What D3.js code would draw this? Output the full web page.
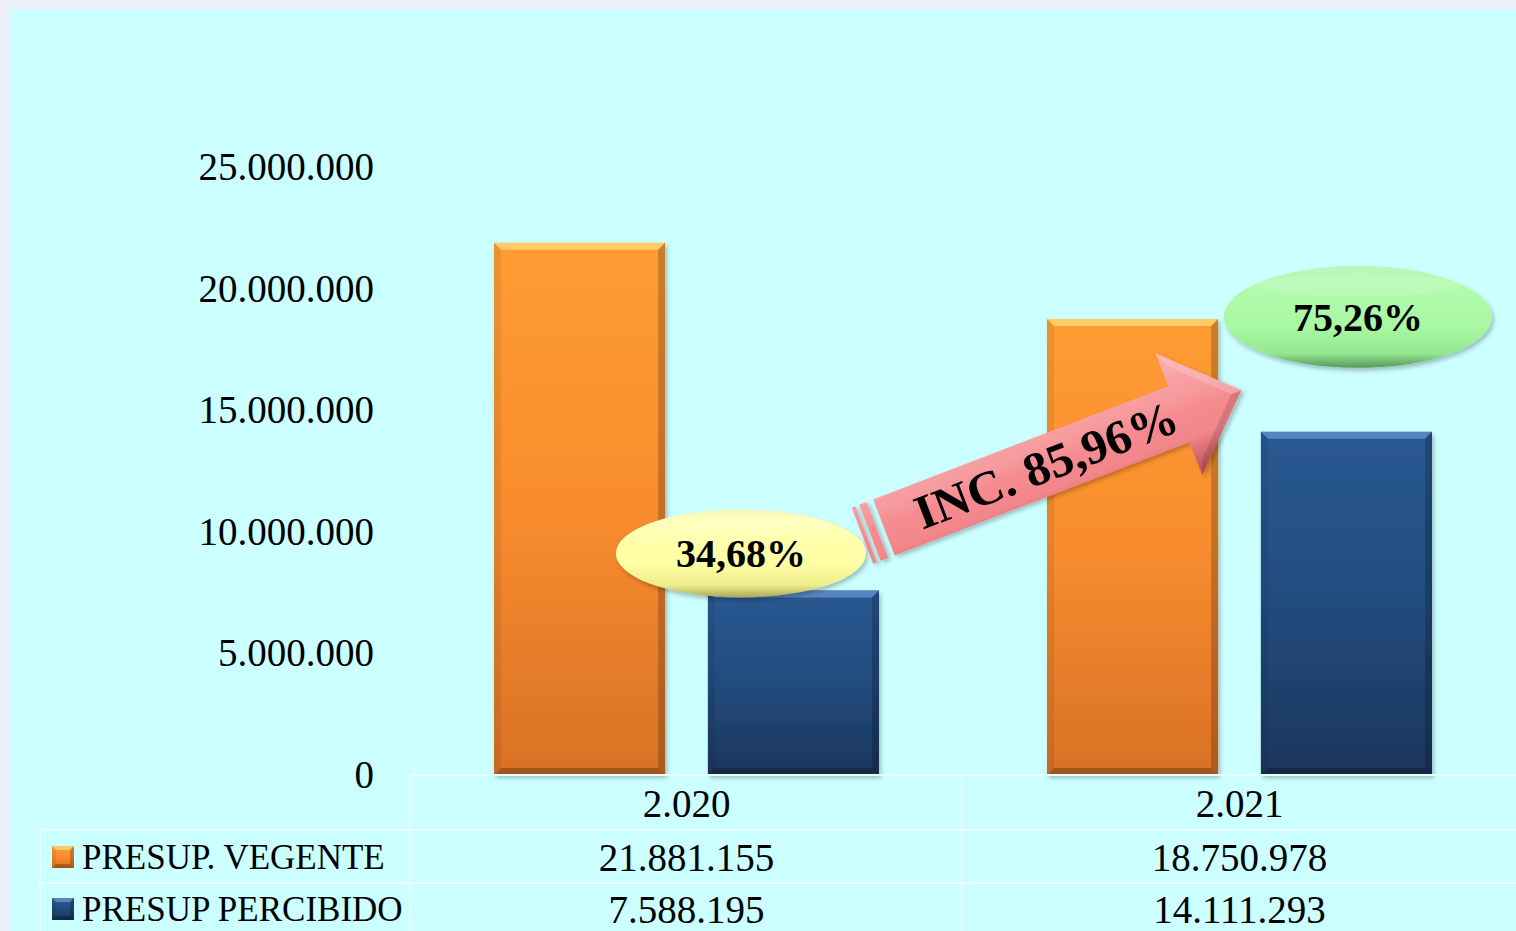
<!DOCTYPE html>
<html>
<head>
<meta charset="utf-8">
<script src="https://cdn.jsdelivr.net/npm/d3@7"></script>
<style>
  html, body { margin: 0; padding: 0; background: #eceff8; }
  svg { display: block; }
  text { font-family: "Liberation Serif", "Times New Roman", serif; fill: #000; }
</style>
</head>
<body>
<div class="js-chart"></div>
<script>
'use strict';

// chart data
var categories = ['2.020', '2.021'];
var seriesKeys = ['vegente', 'percibido'];
var seriesNames = ['PRESUP. VEGENTE', 'PRESUP PERCIBIDO'];
var vegente = [21881155, 18750978];
var percibido = [7588195, 14111293];
var yTicks = [0, 5000000, 10000000, 15000000, 20000000, 25000000];
var ratioLabels = ['34,68%', '75,26%'];
var increaseLabel = 'INC. 85,96%';

var W = 1516, H = 931;

// es-style number format 21.881.155
var fmt = d3.formatLocale({decimal: ',', thousands: '.', grouping: [3], currency: ['', '']}).format(',d');

var svg = d3.select('.js-chart').append('svg')
    .attr('width', W)
    .attr('height', H);
var defs = svg.append('defs');

//page edge + cyan plot area
svg.append('rect').attr('width', W).attr('height', H).attr('fill', '#eceff8');
svg.append('rect').attr('x', 9).attr('y', 9).attr('width', W - 9).attr('height', H - 9).attr('fill', '#ccffff');

//gradients
function vGrad(id, stops) {
    var g = defs.append('linearGradient').attr('id', id)
        .attr('x1', 0).attr('y1', 0).attr('x2', 0).attr('y2', 1);
    stops.forEach(function (s) {
        g.append('stop').attr('offset', s[0]).attr('stop-color', s[1]);
    });
}
vGrad('g-vegente', [[0, '#ff9c32'], [0.5, '#f88c2e'], [1, '#d97126']]);
vGrad('g-percibido', [[0, '#2a5993'], [0.5, '#234b7e'], [1, '#1b365d']]);
vGrad('g-yellow', [[0, '#f4f4c0'], [0.1, '#ffffb8'], [0.6, '#ffffa4'], [0.86, '#eeee8e'], [1, '#a8a858']]);
vGrad('g-green', [[0, '#bdf5bd'], [0.1, '#b4fbb2'], [0.6, '#a8f8a2'], [0.86, '#94e690'], [1, '#56985a']]);

//bevel highlight per series
var shine = {vegente: '#ffe080', percibido: '#6a9ad6'};

var arrowGrad = defs.append('linearGradient').attr('id', 'g-arrow')
    .attr('gradientUnits', 'userSpaceOnUse')
    .attr('x1', 0).attr('y1', -65).attr('x2', 0).attr('y2', 65);
[[0, '#fbb0b2'], [0.38, '#f6999c'], [0.5, '#f58a8f'], [0.7, '#f2868b'], [1, '#b84a58']].forEach(function (s) {
    arrowGrad.append('stop').attr('offset', s[0]).attr('stop-color', s[1]);
});

var shadow = defs.append('filter').attr('id', 'shadow')
    .attr('x', '-10%').attr('y', '-10%').attr('width', '130%').attr('height', '130%');
shadow.append('feDropShadow').attr('dx', 2).attr('dy', 3).attr('stdDeviation', 2)
    .attr('flood-color', '#000').attr('flood-opacity', 0.25);

//scales
var x0 = d3.scaleBand().domain(categories).range([410, 1516]);
var x1 = d3.scaleBand().domain(seriesKeys).range([84, x0.bandwidth() - 84]).paddingInner(0.2);
var y = d3.scaleLinear().domain([0, 25000000]).range([775, 167]);

//y axis labels only
var yAxis = svg.append('g')
    .attr('transform', 'translate(374,0)')
    .call(d3.axisLeft(y).tickValues(yTicks).tickSize(0).tickPadding(0).tickFormat(fmt));
yAxis.select('.domain').remove();
yAxis.selectAll('text')
    .attr('fill', '#000')
    .style('font-family', '"Liberation Serif", serif')
    .style('font-size', '39px');

//bevelled bar like excel
function bevelBox(g, x, yy, w, h, fill, b, light) {
    g.append('rect').attr('x', x).attr('y', yy).attr('width', w).attr('height', h).attr('fill', fill);
    var poly = function (pts, color, op) {
        g.append('polygon')
            .attr('points', pts.map(function (p) { return p.join(','); }).join(' '))
            .attr('fill', color).attr('opacity', op);
    };
    poly([[x, yy], [x + w, yy], [x + w - b, yy + b], [x + b, yy + b]], light, 0.7);
    poly([[x, yy], [x + b, yy + b], [x + b, yy + h - b], [x, yy + h]], '#000', 0.07);
    poly([[x + w, yy], [x + w, yy + h], [x + w - b, yy + h - b], [x + w - b, yy + b]], '#000', 0.2);
    poly([[x, yy + h], [x + b, yy + h - b], [x + w - b, yy + h - b], [x + w, yy + h]], '#000', 0.25);
}

var values = {vegente: vegente, percibido: percibido};
var groups = svg.selectAll('.js-cat').data(categories).enter().append('g')
    .attr('class', 'js-cat')
    .attr('transform', function (d) { return 'translate(' + x0(d) + ',0)'; });

groups.each(function (cat, i) {
    var g = d3.select(this);
    seriesKeys.forEach(function (key) {
        var v = values[key][i];
        var bar = g.append('g').attr('filter', 'url(#shadow)');
        bevelBox(bar, x1(key), y(v), x1.bandwidth(), y(0) - y(v), 'url(#g-' + key + ')', 7, shine[key]);
    });
});

//data table lines
var lineColor = '#e8ffff';
var tLines = [
    [410, 775, W, 775], [40, 830, W, 830], [40, 883, W, 883],
    [410, 775, 410, H], [962, 775, 962, H], [40, 830, 40, H]
];
svg.selectAll('.js-tl').data(tLines).enter().append('line')
    .attr('class', 'js-tl')
    .attr('x1', function (d) { return d[0]; }).attr('y1', function (d) { return d[1]; })
    .attr('x2', function (d) { return d[2]; }).attr('y2', function (d) { return d[3]; })
    .attr('stroke', lineColor).attr('stroke-width', 2);

//category row
svg.selectAll('.js-cat-lbl').data(categories).enter().append('text')
    .attr('class', 'js-cat-lbl')
    .attr('x', function (d) { return x0(d) + x0.bandwidth() / 2; })
    .attr('y', 803)
    .attr('dy', '0.35em')
    .attr('text-anchor', 'middle')
    .style('font-size', '39px')
    .text(function (d) { return d; });

//value rows + legend keys
var rowY = [857, 909];
seriesKeys.forEach(function (key, r) {
    svg.selectAll('.js-val-' + key).data(values[key]).enter().append('text')
        .attr('class', 'js-val-' + key)
        .attr('x', function (d, i) { return x0(categories[i]) + x0.bandwidth() / 2; })
        .attr('y', rowY[r])
        .attr('dy', '0.35em')
        .attr('text-anchor', 'middle')
        .style('font-size', '39px')
        .text(function (d) { return fmt(d); });

    var key_g = svg.append('g');
    bevelBox(key_g, 52, rowY[r] - 11, 22, 22, 'url(#g-' + key + ')', 4, shine[key]);

    svg.append('text')
        .attr('x', 82)
        .attr('y', rowY[r])
        .attr('dy', '0.35em')
        .style('font-size', '35px')
        .text(seriesNames[r]);
});

//percentage ellipses (placed next to each blue bar)
var ellipses = [
    {cx: x0(categories[0]) + x1('percibido') + 33, cy: y(percibido[0]) - 37, rx: 125, ry: 44, fill: 'url(#g-yellow)', label: ratioLabels[0]},
    {cx: x0(categories[1]) + x1('percibido') + 97, cy: y(percibido[1]) - 115, rx: 134, ry: 51, fill: 'url(#g-green)', label: ratioLabels[1]}
];

//increase arrow between the two ellipses
var arrowOrigin = [ellipses[0].cx + 143, ellipses[0].cy - 26];
var arrow = svg.append('g')
    .attr('transform', 'translate(' + arrowOrigin[0] + ',' + arrowOrigin[1] + ') rotate(-21)');
var arrowG = arrow.append('g').attr('filter', 'url(#shadow)');
arrowG.append('rect').attr('x', -23).attr('y', -30).attr('width', 4).attr('height', 60).attr('fill', 'url(#g-arrow)');
arrowG.append('rect').attr('x', -15).attr('y', -30).attr('width', 8).attr('height', 60).attr('fill', 'url(#g-arrow)');
arrowG.append('path')
    .attr('d', 'M0,-30 L316,-30 L316,-65 L383,0 L316,65 L316,30 L0,30 Z')
    .attr('fill', 'url(#g-arrow)');
//head bevel highlights
arrowG.append('path').attr('d', 'M316,-65 L383,0 L372,0 L322,-50 Z').attr('fill', '#fff').attr('opacity', 0.18);
arrowG.append('path').attr('d', 'M316,65 L383,0 L372,0 L322,50 Z').attr('fill', '#000').attr('opacity', 0.12);
arrow.append('text')
    .attr('x', 174)
    .attr('y', 16)
    .attr('text-anchor', 'middle')
    .attr('textLength', 278)
    .attr('lengthAdjust', 'spacingAndGlyphs')
    .style('font-size', '48px')
    .style('font-weight', 'bold')
    .text(increaseLabel);

var eg = svg.selectAll('.js-ell').data(ellipses).enter().append('g').attr('class', 'js-ell');
eg.append('ellipse')
    .attr('cx', function (d) { return d.cx; })
    .attr('cy', function (d) { return d.cy; })
    .attr('rx', function (d) { return d.rx; })
    .attr('ry', function (d) { return d.ry; })
    .attr('fill', function (d) { return d.fill; })
    .attr('filter', 'url(#shadow)');
//thin top shine
eg.append('ellipse')
    .attr('cx', function (d) { return d.cx; })
    .attr('cy', function (d) { return d.cy - d.ry * 0.62; })
    .attr('rx', function (d) { return d.rx * 0.75; })
    .attr('ry', function (d) { return d.ry * 0.22; })
    .attr('fill', '#fff')
    .attr('opacity', 0.12);
eg.append('text')
    .attr('x', function (d) { return d.cx; })
    .attr('y', function (d) { return d.cy; })
    .attr('dy', '0.35em')
    .attr('text-anchor', 'middle')
    .style('font-size', '40px')
    .style('font-weight', 'bold')
    .text(function (d) { return d.label; });
</script>
</body>
</html>
